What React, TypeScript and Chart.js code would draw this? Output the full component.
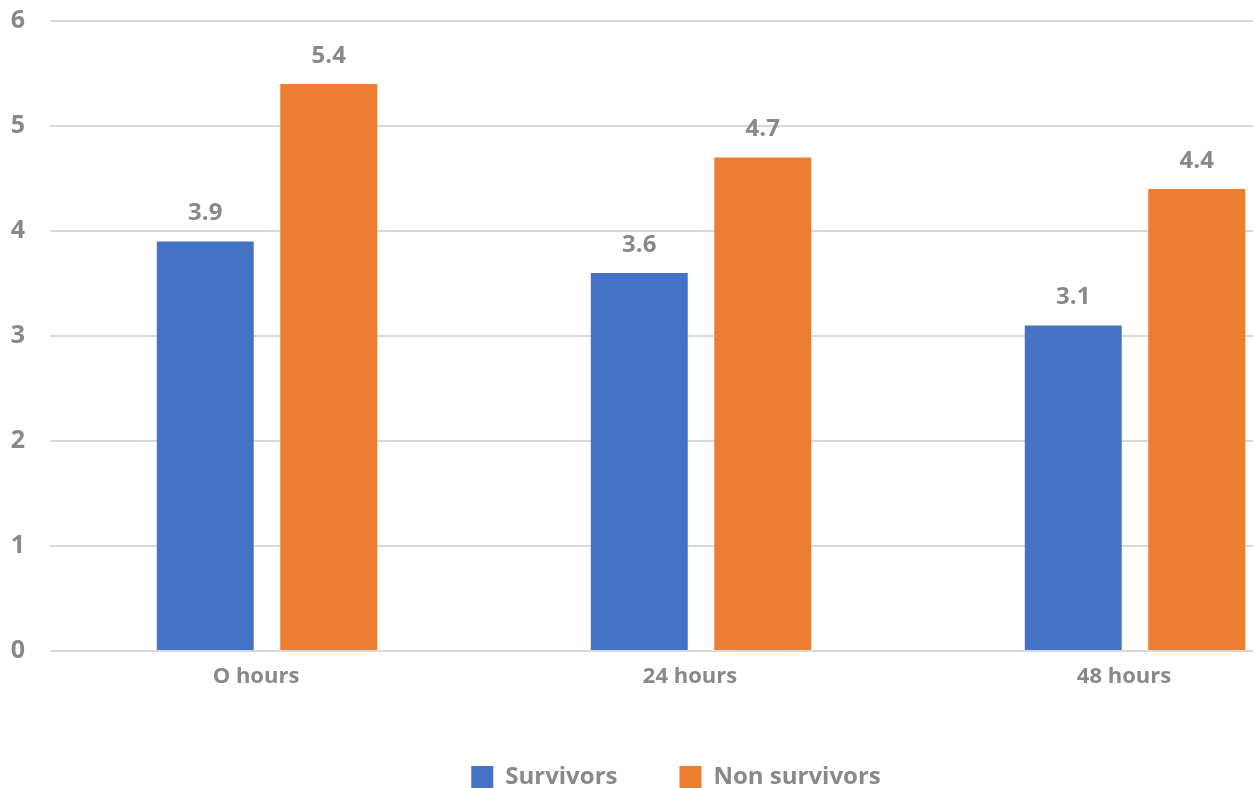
import React, { useEffect, useRef } from "react";
import { Chart, registerables } from "chart.js";

Chart.register(...registerables);

const categories = ["O hours", "24 hours", "48 hours"];
const survivors = [3.9, 3.6, 3.1];
const nonSurvivors = [5.4, 4.7, 4.4];
const yTicks = [0, 1, 2, 3, 4, 5, 6];

const TEXT_GREY = "#898989";
const GRID_GREY = "#D9D9D9";
const FONT_FAMILY = "'Open Sans', sans-serif";

// Draws each bar's value centred above it.
const valueLabels = {
  id: "valueLabels",
  afterDatasetsDraw(chart: any) {
    const { ctx } = chart;
    ctx.save();
    ctx.font = `bold 24px ${FONT_FAMILY}`;
    ctx.fillStyle = TEXT_GREY;
    ctx.textAlign = "center";
    ctx.textBaseline = "middle";
    chart.data.datasets.forEach((ds: any, di: number) => {
      const meta = chart.getDatasetMeta(di);
      meta.data.forEach((bar: any, i: number) => {
        ctx.fillText(ds.data[i].toFixed(1), bar.x, bar.y - 28);
      });
    });
    ctx.restore();
  },
};

export default function App() {
  const canvasRef = useRef<HTMLCanvasElement | null>(null);

  useEffect(() => {
    if (!canvasRef.current) return;
    const chart = new Chart(canvasRef.current, {
      type: "bar",
      data: {
        labels: categories,
        datasets: [
          {
            label: "Survivors",
            data: survivors,
            backgroundColor: "#4472C4",
            categoryPercentage: 0.569,
            barPercentage: 0.785,
          },
          {
            label: "Non survivors",
            data: nonSurvivors,
            backgroundColor: "#ED7D31",
            categoryPercentage: 0.569,
            barPercentage: 0.785,
          },
        ],
      },
      options: {
        responsive: false,
        animation: false,
        layout: { padding: { top: 21, right: 4, left: 0, bottom: 0 } },
        plugins: {
          tooltip: { enabled: false },
          legend: {
            position: "bottom",
            labels: {
              boxWidth: 22,
              boxHeight: 22,
              padding: 62,
              color: TEXT_GREY,
              font: { family: FONT_FAMILY, size: 24, weight: "bold" },
            },
          },
        },
        scales: {
          x: {
            grid: { display: false, drawTicks: false },
            border: { display: false },
            ticks: {
              color: TEXT_GREY,
              padding: 13,
              labelOffset: -11,
              font: { family: FONT_FAMILY, size: 22, weight: "bold" },
            },
            afterFit(scale: any) {
              scale.height = 52;
              scale.paddingLeft = 0;
              scale.paddingRight = 0;
            },
          },
          y: {
            min: 0,
            max: 6,
            afterBuildTicks(scale: any) {
              scale.ticks = yTicks.map((v) => ({ value: v }));
            },
            grid: { color: GRID_GREY, lineWidth: 2, drawTicks: false },
            border: { display: false },
            ticks: {
              color: TEXT_GREY,
              padding: 25,
              font: { family: FONT_FAMILY, size: 25, weight: "bold" },
            },
            afterFit(scale: any) {
              scale.width = 50;
              scale.paddingTop = 0;
              scale.paddingBottom = 0;
            },
          },
        },
      },
      plugins: [valueLabels],
    });
    return () => chart.destroy();
  }, []);

  return (
    <div
      style={{
        position: "fixed",
        left: 0,
        top: 0,
        width: 1253,
        height: 788,
        overflow: "hidden",
        background: "#ffffff",
      }}
    >
      <canvas ref={canvasRef} width={1356} height={799} style={{ display: "block" }} />
    </div>
  );
}
